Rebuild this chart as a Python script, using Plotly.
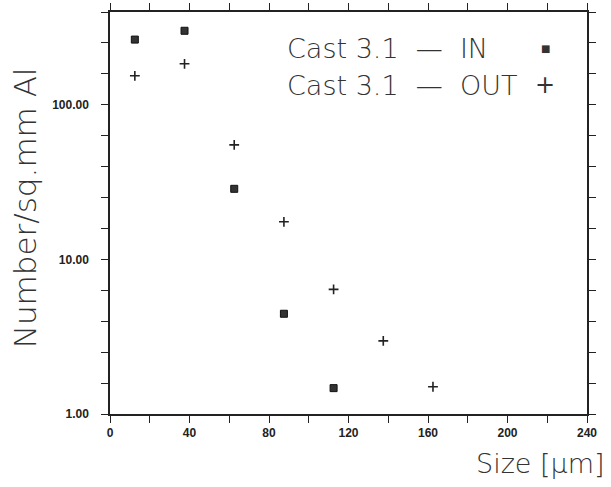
import plotly.graph_objects as go

# Data
size_in = [12.5, 37.5, 62.5, 87.5, 112.5]
count_in = [264, 301, 28.6, 4.45, 1.47]

size_out = [12.5, 37.5, 62.5, 87.5, 112.5, 137.5, 162.5]
count_out = [154, 184, 55, 17.5, 6.4, 2.97, 1.50]

x_ticks = list(range(0, 241, 20))
x_labels = [str(v) if v % 40 == 0 else "" for v in x_ticks]
y_ticks = [10 ** (0.2 * k) for k in range(0, 14)]
y_labels = {0: "1.00", 5: "10.00", 10: "100.00"}
y_text = [y_labels.get(k, "") for k in range(0, 14)]

legend_labels = ["Cast 3.1  \u2014  IN", "Cast 3.1  \u2014  OUT"]
legend_symbols = ["\u25a0", "+"]

title_font = dict(family="DejaVu Sans ExtraLight, DejaVu Sans", size=27,
                  color="#333333", weight=200)
tick_font = dict(family="Liberation Sans", size=12, color="#222222", weight="bold")

fig = go.Figure()
fig.add_trace(go.Scatter(
    x=size_in, y=count_in, mode="markers", name="IN",
    marker=dict(symbol="square", size=7, color="#333333",
                line=dict(color="#111111", width=1)),
))
fig.add_trace(go.Scatter(
    x=size_out, y=count_out, mode="markers", name="OUT",
    marker=dict(symbol="cross-thin", size=7,
                line=dict(color="#222222", width=1.6)),
))

ys = [0.910, 0.818]
for lab, sym, yy in zip(legend_labels, legend_symbols, ys):
    fig.add_annotation(x=0.367, y=yy, xref="paper", yref="paper",
                       xanchor="left", yanchor="middle", text=lab,
                       showarrow=False, font=title_font)
    fig.add_annotation(x=0.912, y=yy, xref="paper", yref="paper",
                       xanchor="center", yanchor="middle", text=sym,
                       showarrow=False,
                       font=dict(family="DejaVu Sans", size=10 if sym != "+" else 24,
                                 color="#333333"))

fig.add_annotation(x=1.042, y=-0.122, xref="paper", yref="paper",
                   xanchor="right", yanchor="middle", text="Size [\u03bcm]",
                   showarrow=False, font=title_font)
fig.add_annotation(x=-0.178, y=0.512, xref="paper", yref="paper",
                   xanchor="center", yanchor="middle", text="Number/sq.mm Al",
                   textangle=-90, showarrow=False,
                   font=dict(title_font, size=31))

fig.update_xaxes(range=[0, 240], tickvals=x_ticks, ticktext=x_labels,
                 ticks="outside", ticklen=7, tickwidth=1.2, tickcolor="#222",
                 showline=True, linecolor="#222", linewidth=1.5,
                 mirror="ticks", showgrid=False, zeroline=False,
                 tickfont=tick_font, automargin=False)
fig.update_yaxes(type="log", range=[0, 2.6], tickvals=y_ticks, ticktext=y_text,
                 ticks="outside", ticklen=7, tickwidth=1.2, tickcolor="#222",
                 showline=True, linecolor="#222", linewidth=1.5,
                 mirror="ticks", showgrid=False, zeroline=False,
                 tickfont=tick_font, automargin=False, ticklabelstandoff=10)

fig.update_layout(
    width=611, height=487,
    margin=dict(l=110, r=24, t=12, b=73),
    plot_bgcolor="white", paper_bgcolor="white",
    showlegend=False,
)

fig.write_html("out.html")
